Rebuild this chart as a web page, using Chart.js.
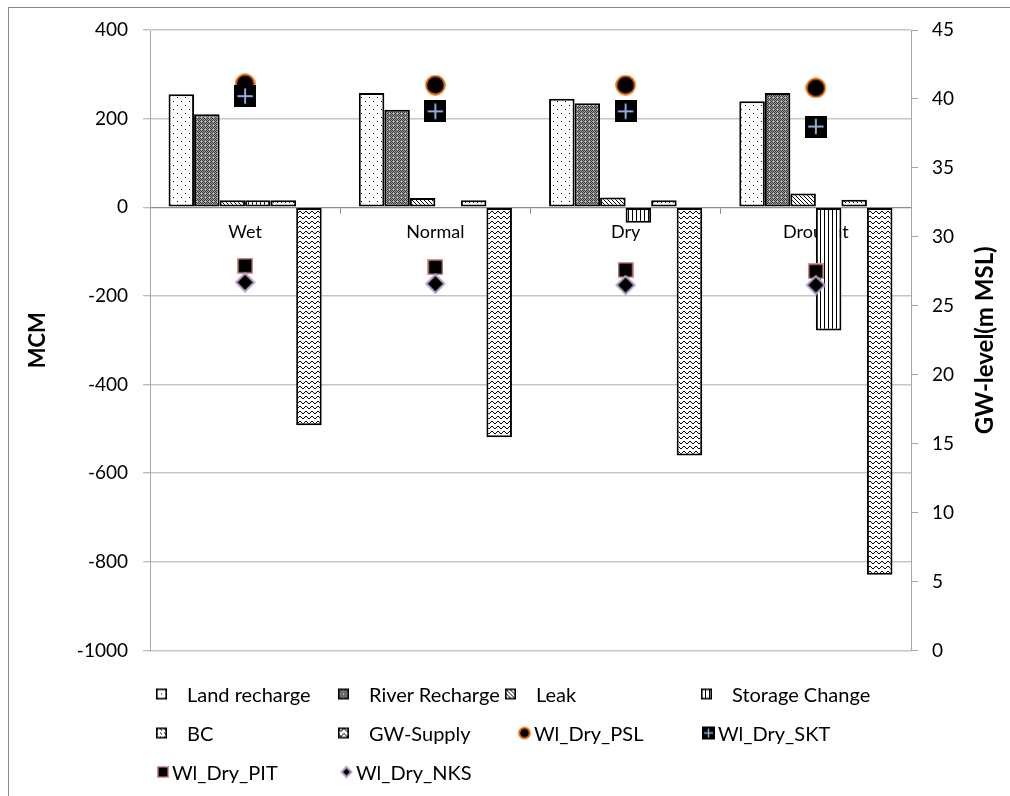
<!DOCTYPE html>
<html>
<head>
<meta charset="utf-8">
<script src="https://cdn.jsdelivr.net/npm/chart.js@4.4.1/dist/chart.umd.min.js"></script>
<style>
  html, body { margin: 0; padding: 0; background: #fff; }
  #wrap { position: relative; width: 1010px; height: 796px; overflow: hidden; }
  #frame { position: absolute; left: 8px; top: 7px; width: 1040px; height: 840px;
           border: 1.5px solid #8a8a8a; box-sizing: border-box; }
  #c { position: absolute; left: 0; top: 0; }
  .lg { position: absolute; font: 20px Lato, "Open Sans", sans-serif; color: #000;
        white-space: nowrap; line-height: 1; transform: translateY(-50%); }
  .sw { position: absolute; top: 50%; transform: translateY(-50%); }
</style>
</head>
<body>
<div id="wrap">
  <div id="frame"></div>
  <canvas id="c" width="1010" height="796"></canvas>
  <div id="legend"></div>
</div>
<script>
// Water balance components per hydrological year type (MCM)
const categories = ['Wet', 'Normal', 'Dry', 'Drought'];
const landRecharge  = [255, 258, 245, 239];
const riverRecharge = [210, 220, 235, 258];
const leak          = [16, 21, 22, 31];
const storageChange = [16, 2, -35, -278];
const bc            = [16, 16, 16, 17];
const gwSupply      = [-492, -519, -560, -829];

// Groundwater levels at observation wells (m MSL)
const wlDryPSL = [41.1, 41.0, 41.0, 40.8];
const wlDrySKT = [40.2, 39.1, 39.1, 38.0];
const wlDryPIT = [27.9, 27.8, 27.6, 27.5];
const wlDryNKS = [26.7, 26.6, 26.5, 26.5];

// Axis tick labels
const mcmTicks   = [-1000, -800, -600, -400, -200, 0, 200, 400];
const levelTicks = [0, 5, 10, 15, 20, 25, 30, 35, 40, 45];

const FONT = 'Lato, "Open Sans", sans-serif';

// ---- hatch fills -------------------------------------------------------
function tile(w, h, paint) {
  const t = document.createElement('canvas');
  t.width = w; t.height = h;
  const g = t.getContext('2d');
  g.fillStyle = '#fff'; g.fillRect(0, 0, w, h);
  paint(g);
  return t;
}
const tiles = {
  dots: tile(8, 8, g => { g.fillStyle = '#000'; g.fillRect(1, 1, 1, 1); g.fillRect(5, 5, 1, 1); }),
  check: tile(4, 4, g => {
    g.fillStyle = '#9a9a9a'; g.fillRect(0, 0, 4, 4);
    g.fillStyle = '#3c3c3c';
    g.fillRect(0, 0, 1, 1); g.fillRect(2, 0, 1, 1); g.fillRect(1, 1, 1, 1); g.fillRect(3, 1, 1, 1);
    g.fillRect(0, 2, 1, 1); g.fillRect(2, 2, 1, 1); g.fillRect(1, 3, 1, 1); g.fillRect(3, 3, 1, 1);
    g.fillStyle = '#d0d0d0'; g.fillRect(1, 1, 1, 1);
  }),
  diag: tile(4, 4, g => { g.fillStyle = '#000'; for (let i = 0; i < 4; i++) g.fillRect(i, i, 1, 1); }),
  vert: tile(4, 4, g => { g.fillStyle = '#000'; g.fillRect(0, 0, 1, 4); }),
  dash: tile(4, 4, g => { g.fillStyle = '#000'; g.fillRect(0, 1, 1, 1); g.fillRect(1, 2, 1, 1); }),
  wave: tile(6, 5, g => {
    g.strokeStyle = '#000'; g.lineWidth = 1;
    g.beginPath(); g.moveTo(0, 1); g.lineTo(3, 4); g.lineTo(6, 1); g.stroke();
  })
};
const ctx = document.getElementById('c').getContext('2d');
const fill = name => ctx.createPattern(tiles[name], 'repeat');

// ---- marker glyphs -----------------------------------------------------
function glyph(size, paint) {
  const t = document.createElement('canvas');
  t.width = size; t.height = size;
  paint(t.getContext('2d'), size);
  return t;
}
function circleGlyph(s) {
  return glyph(s, (g, n) => {
    g.beginPath(); g.arc(n / 2, n / 2, n / 2 - 1.2, 0, Math.PI * 2);
    g.fillStyle = '#000'; g.fill();
    g.lineWidth = 2; g.strokeStyle = '#e46c0a'; g.stroke();
  });
}
function crossGlyph(s) {
  return glyph(s, (g, n) => {
    g.fillStyle = '#000'; g.fillRect(0, 0, n, n);
    g.strokeStyle = '#8faadc'; g.lineWidth = Math.max(1.5, n / 11);
    const a = n * 0.15, b = n * 0.85;
    g.beginPath(); g.moveTo(n / 2, a); g.lineTo(n / 2, b); g.moveTo(a, n / 2); g.lineTo(b, n / 2); g.stroke();
  });
}
function squareGlyph(s) {
  return glyph(s, (g, n) => {
    g.fillStyle = '#000'; g.fillRect(0, 0, n, n);
    g.strokeStyle = '#d99694'; g.lineWidth = 1.5; g.strokeRect(0.75, 0.75, n - 1.5, n - 1.5);
  });
}
function diamondGlyph(s) {
  return glyph(s, (g, n) => {
    const h = n / 2, r = h - 1.5;
    g.beginPath(); g.moveTo(h, h - r); g.lineTo(h + r, h); g.lineTo(h, h + r); g.lineTo(h - r, h); g.closePath();
    g.fillStyle = '#000'; g.fill();
    g.lineWidth = 2; g.strokeStyle = '#b3a2c7'; g.stroke();
  });
}

// ---- datasets ----------------------------------------------------------
function barSet(label, data, pattern) {
  return { type: 'bar', label, data, yAxisID: 'y', order: 5,
           backgroundColor: fill(pattern), borderColor: '#000', borderWidth: 2,
           borderSkipped: false, categoryPercentage: 0.805, barPercentage: 1,
           legendSwatch: tiles[pattern] };
}
function pointSet(label, data, make, size, legendSize, order) {
  return { type: 'line', label, data, yAxisID: 'y1', order, showLine: false,
           pointStyle: make(size), pointRadius: size / 2, pointHoverRadius: size / 2,
           legendGlyph: make, legendSize };
}

const datasets = [
  barSet('Land recharge', landRecharge, 'dots'),
  barSet('River Recharge', riverRecharge, 'check'),
  barSet('Leak', leak, 'diag'),
  barSet('Storage Change', storageChange, 'vert'),
  barSet('BC', bc, 'dash'),
  barSet('GW-Supply', gwSupply, 'wave'),
  pointSet('Wl_Dry_PSL', wlDryPSL, circleGlyph, 21, 13, 4),
  pointSet('Wl_Dry_SKT', wlDrySKT, crossGlyph, 22, 13, 3),
  pointSet('Wl_Dry_PIT', wlDryPIT, squareGlyph, 16, 12, 2),
  pointSet('Wl_Dry_NKS', wlDryNKS, diamondGlyph, 21, 13, 1)
];

// Right-hand axis title, reading bottom to top
const sideTitle = {
  id: 'sideTitle',
  afterDraw(chart) {
    const s = chart.scales.y1, c = chart.ctx;
    c.save();
    c.translate(s.right - 25, (chart.chartArea.top + chart.chartArea.bottom) / 2);
    c.rotate(-Math.PI / 2);
    c.font = 'bold 24px ' + FONT;
    c.fillStyle = '#000';
    c.textAlign = 'center';
    c.textBaseline = 'middle';
    c.fillText('GW-level(m MSL)', 0, 0);
    c.restore();
  }
};

const plainNumber = v => String(v);

const chart = new Chart(ctx, {
  data: { labels: categories, datasets },
  plugins: [sideTitle],
  options: {
    responsive: false,
    animation: false,
    events: [],
    layout: { padding: { top: 30, bottom: 796 - 650.5, left: 0, right: 0 } },
    plugins: { legend: { display: false }, tooltip: { enabled: false } },
    scales: {
      x: {
        position: { y: 0 },
        offset: true,
        grid: { display: true, drawOnChartArea: false, drawTicks: true, tickLength: 6,
                color: '#8c8c8c', offset: true },
        border: { display: true, color: '#8c8c8c', width: 1 },
        ticks: { color: '#000', font: { family: FONT, size: 18 }, padding: 8, maxRotation: 0 }
      },
      y: {
        position: 'left',
        min: mcmTicks[0], max: mcmTicks[mcmTicks.length - 1],
        afterBuildTicks: s => { s.ticks = mcmTicks.map(v => ({ value: v })); },
        afterFit: s => { s.width = 150; },
        grid: { color: '#c6c6c6', lineWidth: 1.5, tickLength: 7, tickColor: '#a6a6a6', tickWidth: 1 },
        border: { display: true, color: '#a6a6a6', width: 1 },
        ticks: { color: '#000', font: { family: FONT, size: 19 }, padding: 15, callback: plainNumber },
        title: { display: true, text: 'MCM', color: '#000',
                 font: { family: FONT, size: 22, weight: 'bold' }, padding: { top: 25, bottom: 0 } }
      },
      y1: {
        position: 'right',
        min: levelTicks[0], max: levelTicks[levelTicks.length - 1],
        afterBuildTicks: s => { s.ticks = levelTicks.map(v => ({ value: v })); },
        afterFit: s => { s.width = 1010 - 911; },
        grid: { drawOnChartArea: false, tickLength: 7, color: '#a6a6a6' },
        border: { display: true, color: '#a6a6a6', width: 1 },
        ticks: { color: '#000', font: { family: FONT, size: 19 }, padding: 14, callback: plainNumber }
      }
    }
  }
});

// ---- legend (laid out in four columns, three rows) ---------------------
const legendRows = [694, 733, 772];
const legendSlots = [
  { x: 156, row: 0 }, { x: 338, row: 0 }, { x: 505, row: 0 }, { x: 701, row: 0 },
  { x: 156, row: 1 }, { x: 338, row: 1 }, { x: 518, row: 1 }, { x: 702, row: 1 },
  { x: 157, row: 2 }, { x: 340, row: 2 }
];
const legendEl = document.getElementById('legend');
chart.data.datasets.forEach((ds, i) => {
  const slot = legendSlots[i];
  const item = document.createElement('div');
  item.className = 'lg';
  item.style.left = slot.x + 'px';
  item.style.top = legendRows[slot.row] + 'px';
  let sw, textOffset;
  if (ds.legendSwatch) {
    sw = document.createElement('canvas');
    sw.width = 11; sw.height = 11;
    const g = sw.getContext('2d');
    g.fillStyle = g.createPattern(ds.legendSwatch, 'repeat');
    g.fillRect(0, 0, 11, 11);
    g.strokeStyle = '#000'; g.lineWidth = 1.6; g.strokeRect(0.8, 0.8, 9.4, 9.4);
    textOffset = 31;
  } else {
    sw = ds.legendGlyph(ds.legendSize);
    textOffset = ds.legendSize + 3;
  }
  sw.className = 'sw';
  sw.style.left = '0px';
  const txt = document.createElement('span');
  txt.textContent = ds.label;
  txt.style.marginLeft = textOffset + 'px';
  item.appendChild(sw);
  item.appendChild(txt);
  legendEl.appendChild(item);
});
</script>
</body>
</html>
